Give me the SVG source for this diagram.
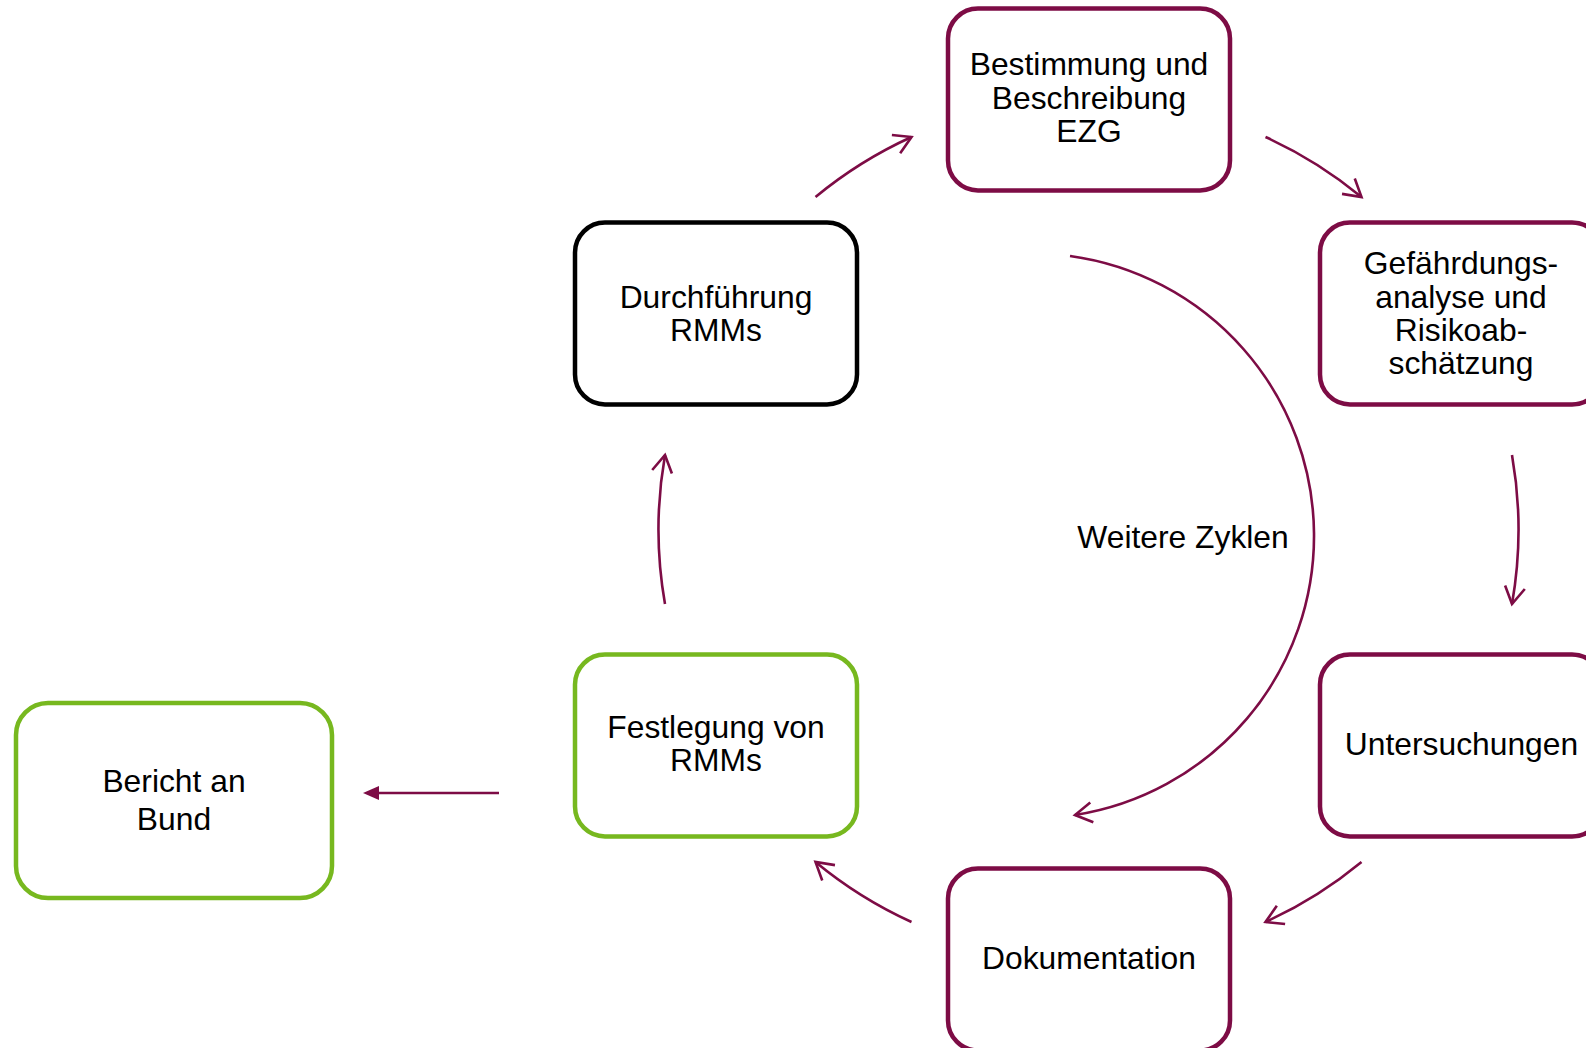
<svg xmlns="http://www.w3.org/2000/svg" width="1586" height="1048" viewBox="0 0 1586 1048">
<defs>
<style>
.box{fill:#fff;stroke-width:4.5}
.m{stroke:#7d0c45}
.g{stroke:#77b81f}
.k{stroke:#000}
text{font-family:"Liberation Sans",Arial,sans-serif;font-size:31.8px;fill:#000;text-anchor:middle}
.c{fill:none;stroke:#7d0c45;stroke-width:2.6}
</style>
<marker id="open" markerUnits="userSpaceOnUse" markerWidth="26" markerHeight="26" viewBox="0 0 26 26" refX="19" refY="11" orient="auto" overflow="visible">
<path d="M2,1 L19,11 L2,21" fill="none" stroke="#7d0c45" stroke-width="2.6" stroke-linejoin="miter"/>
</marker>
<marker id="solid" markerUnits="userSpaceOnUse" markerWidth="20" markerHeight="16" viewBox="0 -8 20 16" refX="0" refY="0" orient="auto" overflow="visible">
<path d="M0,-7 L16,0 L0,7 Z" fill="#7d0c45"/>
</marker>
</defs>
<rect width="1586" height="1048" fill="#fff"/>

<g id="connectors">
<path class="c" d="M815.5,197 A430,430 0 0 1 911.5,137" marker-end="url(#open)"/>
<path class="c" d="M1265.5,137 A430,430 0 0 1 1361.5,197" marker-end="url(#open)"/>
<path class="c" d="M1512,455 A430,430 0 0 1 1512,604" marker-end="url(#open)"/>
<path class="c" d="M1361.5,862 A430,430 0 0 1 1265.5,922" marker-end="url(#open)"/>
<path class="c" d="M911.5,922 A430,430 0 0 1 815.5,862" marker-end="url(#open)"/>
<path class="c" d="M665,604 A430,430 0 0 1 665,455" marker-end="url(#open)"/>
<path class="c" d="M1070,256 A282.5,282.5 0 0 1 1075,815" marker-end="url(#open)"/>
<path class="c" d="M499,793 L379,793" marker-end="url(#solid)"/>
</g>

<g id="node-bestimmung">
<rect class="box m" x="948" y="8.5" width="282" height="182" rx="30"/>
<text x="1089" y="75">Bestimmung und</text>
<text x="1089" y="108.5">Beschreibung</text>
<text x="1089" y="142">EZG</text>
</g>
<g id="node-gefaehrdung">
<rect class="box m" x="1320" y="222.5" width="282" height="182" rx="30"/>
<text x="1461" y="274">Gefährdungs-</text>
<text x="1461" y="307.5">analyse und</text>
<text x="1461" y="341">Risikoab-</text>
<text x="1461" y="373.5">schätzung</text>
</g>
<g id="node-untersuchungen">
<rect class="box m" x="1320" y="654.5" width="282" height="182" rx="30"/>
<text x="1461.5" y="754.5">Untersuchungen</text>
</g>
<g id="node-dokumentation">
<rect class="box m" x="948" y="868.5" width="282" height="182" rx="30"/>
<text x="1089" y="969">Dokumentation</text>
</g>
<g id="node-festlegung">
<rect class="box g" x="575" y="654.5" width="282" height="182" rx="30"/>
<text x="716" y="738">Festlegung von</text>
<text x="716" y="770.5">RMMs</text>
</g>
<g id="node-durchfuehrung">
<rect class="box k" x="575" y="222.5" width="282" height="182" rx="30"/>
<text x="716" y="307.5">Durchführung</text>
<text x="716" y="341">RMMs</text>
</g>
<g id="node-bericht">
<rect class="box g" x="16" y="703" width="316" height="195" rx="32"/>
<text x="174" y="792">Bericht an</text>
<text x="174" y="830">Bund</text>
</g>
<g id="label-zyklen">
<text x="1183" y="548">Weitere Zyklen</text>
</g>
</svg>
